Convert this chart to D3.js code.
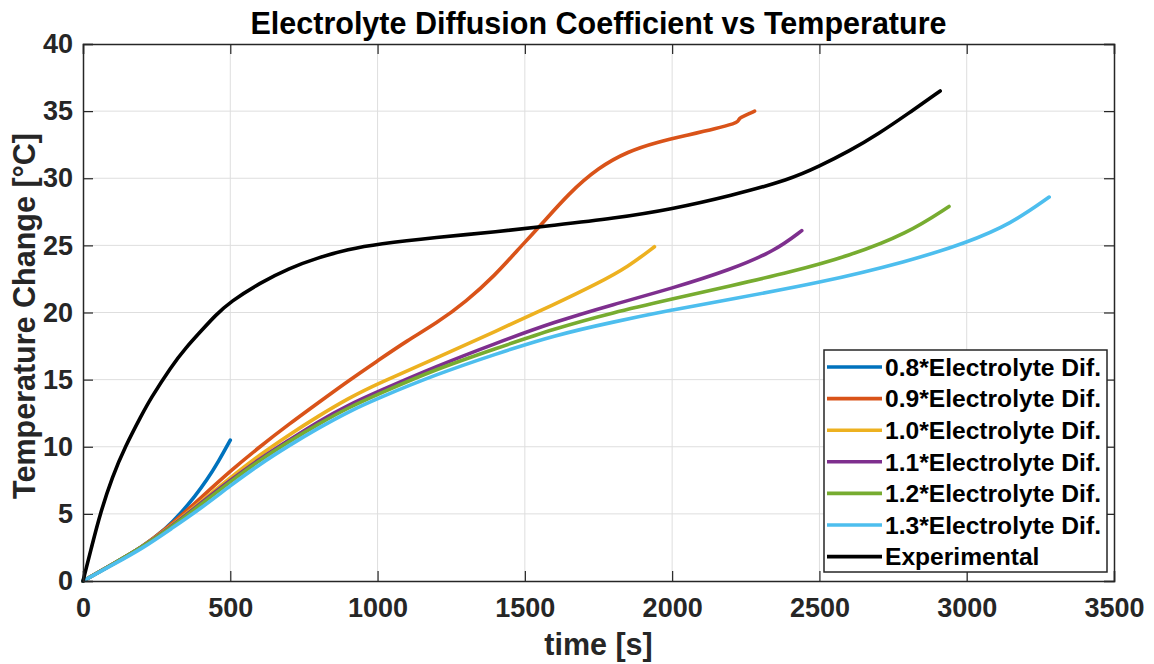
<html>
  <head>
    <style>
      body {
        margin: 0;
        background: #fff;
      }
      svg {
        font-family: "Liberation Sans", Arial, sans-serif;
        font-weight: bold;
      }
      .grid line {
        stroke: #dedede;
        stroke-width: 1;
      }
    </style>
  </head>
  <body>
    <svg></svg>

    <script src="https://d3js.org/d3.v7.min.js"></script>
    <script>
      let width = 1154,
        height = 664;

      let svg = d3.select("svg").attr("width", width).attr("height", height);

      // plot box
      let plotLeft = 83,
        plotRight = 1114,
        plotTop = 44,
        plotBottom = 581;

      let xTicks = [0, 500, 1000, 1500, 2000, 2500, 3000, 3500];
      let yTicks = [0, 5, 10, 15, 20, 25, 30, 35, 40];

      // series (time [s], temperature change [°C])
      let t08 = [0, 100, 200, 285, 330, 380, 420, 460, 500];
      let y08 = [0, 1.25, 2.5, 3.95, 5.0, 6.3, 7.5, 8.9, 10.5];

      let t09 = [0, 100, 200, 300, 400, 500, 600, 700, 800, 900, 1000, 1100, 1200, 1300, 1400, 1473, 1550, 1650, 1750, 1850, 1950, 2050, 2150, 2215, 2222, 2230, 2240, 2280];
      let y09 = [0, 1.25, 2.5, 4.2, 6.2, 8.2, 10.0, 11.7, 13.3, 14.9, 16.4, 17.9, 19.2, 20.8, 22.8, 24.6, 26.4, 28.9, 30.8, 32.0, 32.7, 33.2, 33.7, 34.1, 34.2, 34.5, 34.6, 35.0];

      let t10 = [0, 100, 200, 300, 400, 500, 600, 700, 800, 900, 1000, 1200, 1400, 1600, 1750, 1850, 1940];
      let y10 = [0, 1.25, 2.5, 4.1, 5.9, 7.7, 9.4, 10.9, 12.3, 13.6, 14.7, 16.6, 18.6, 20.6, 22.2, 23.4, 24.9];

      let t11 = [0, 100, 200, 300, 400, 500, 600, 700, 800, 900, 1000, 1200, 1400, 1600, 1800, 2000, 2200, 2350, 2440];
      let y11 = [0, 1.25, 2.5, 4.05, 5.8, 7.5, 9.1, 10.5, 11.9, 13.1, 14.1, 16.0, 17.7, 19.3, 20.6, 21.8, 23.2, 24.6, 26.1];

      let t12 = [0, 100, 200, 300, 400, 500, 600, 700, 800, 900, 1000, 1200, 1400, 1600, 1800, 2000, 2200, 2400, 2600, 2800, 2940];
      let y12 = [0, 1.25, 2.5, 4.0, 5.7, 7.4, 9.0, 10.4, 11.7, 12.9, 13.9, 15.8, 17.3, 18.8, 20.0, 21.0, 22.0, 23.0, 24.2, 25.9, 27.9];

      let t13 = [0, 100, 200, 300, 400, 500, 600, 700, 800, 900, 1000, 1200, 1400, 1600, 1800, 2000, 2200, 2500, 2800, 3000, 3150, 3280];
      let y13 = [0, 1.2, 2.4, 3.9, 5.4, 7.1, 8.7, 10.1, 11.4, 12.6, 13.6, 15.4, 16.9, 18.3, 19.3, 20.2, 21.0, 22.2, 23.8, 25.2, 26.6, 28.6];

      let tExp = [0, 30, 58, 100, 143, 200, 227, 300, 350, 400, 450, 500, 600, 700, 800, 900, 1000, 1200, 1400, 1600, 1800, 2000, 2200, 2400, 2500, 2600, 2700, 2800, 2910];
      let yExp = [0, 2.6, 5.0, 7.8, 10.0, 12.4, 13.5, 16.0, 17.4, 18.6, 19.8, 20.8, 22.2, 23.3, 24.1, 24.7, 25.1, 25.6, 26.0, 26.5, 27.0, 27.7, 28.7, 29.9, 30.9, 32.0, 33.3, 34.8, 36.5];

      let names = [
        "0.8*Electrolyte Dif.",
        "0.9*Electrolyte Dif.",
        "1.0*Electrolyte Dif.",
        "1.1*Electrolyte Dif.",
        "1.2*Electrolyte Dif.",
        "1.3*Electrolyte Dif.",
        "Experimental",
      ];
      let colors = ["#0072BD", "#D95319", "#EDB120", "#7E2F8E", "#77AC30", "#4DBEEE", "#000000"];

      let series = [
        [t08, y08],
        [t09, y09],
        [t10, y10],
        [t11, y11],
        [t12, y12],
        [t13, y13],
        [tExp, yExp],
      ].map((s, i) => ({
        name: names[i],
        color: colors[i],
        points: s[0].map((t, j) => [t, s[1][j]]),
      }));

      let x = d3.scaleLinear().domain([0, 3500]).range([plotLeft, plotRight]);
      let y = d3.scaleLinear().domain([0, 40]).range([plotBottom, plotTop]);

      // grid
      let grid = svg.append("g").attr("class", "grid");
      grid
        .selectAll("line.gx")
        .data(xTicks.slice(1, -1))
        .enter()
        .append("line")
        .attr("x1", (d) => x(d))
        .attr("x2", (d) => x(d))
        .attr("y1", plotTop)
        .attr("y2", plotBottom);
      grid
        .selectAll("line.gy")
        .data(yTicks.slice(1, -1))
        .enter()
        .append("line")
        .attr("x1", plotLeft)
        .attr("x2", plotRight)
        .attr("y1", (d) => y(d))
        .attr("y2", (d) => y(d));

      // curves (basis spline smooths the hand-read points)
      let line = d3
        .line()
        .x((d) => x(d[0]))
        .y((d) => y(d[1]))
        .curve(d3.curveBasis);

      svg
        .append("g")
        .attr("id", "curves")
        .selectAll("path")
        .data(series)
        .enter()
        .append("path")
        .attr("d", (d) => line(d.points))
        .attr("fill", "none")
        .attr("stroke", (d) => d.color)
        .attr("stroke-width", 3.6)
        .attr("stroke-linejoin", "round")
        .attr("stroke-linecap", "round");

      // axes with inward ticks on all four sides
      let tickSize = -10;
      svg
        .append("g")
        .attr("transform", "translate(0," + plotBottom + ")")
        .call(d3.axisBottom(x).tickValues(xTicks).tickSize(tickSize).tickPadding(17).tickFormat(d3.format("d")));
      svg
        .append("g")
        .attr("transform", "translate(0," + plotTop + ")")
        .call(d3.axisTop(x).tickValues(xTicks).tickSize(tickSize).tickFormat(""));
      svg
        .append("g")
        .attr("transform", "translate(" + plotLeft + ",0)")
        .call(d3.axisLeft(y).tickValues(yTicks).tickSize(tickSize).tickPadding(10));
      svg
        .append("g")
        .attr("transform", "translate(" + plotRight + ",0)")
        .call(d3.axisRight(y).tickValues(yTicks).tickSize(tickSize).tickFormat(""));

      svg.selectAll(".domain").attr("stroke", "#262626").attr("stroke-width", 1.5);
      svg.selectAll(".tick line").attr("stroke", "#262626").attr("stroke-width", 1.2);
      svg.selectAll(".tick").select(function () {
        return this.parentNode;
      })
        .attr("font-family", null)
        .attr("font-size", null);
      svg.selectAll(".tick text").style("font-size", "27px").attr("fill", "#262626");

      // titles
      svg
        .append("text")
        .attr("x", (plotLeft + plotRight) / 2)
        .attr("y", 34)
        .attr("text-anchor", "middle")
        .style("font-size", "30.5px")
        .attr("fill", "#000")
        .text("Electrolyte Diffusion Coefficient vs Temperature");

      svg
        .append("text")
        .attr("x", (plotLeft + plotRight) / 2)
        .attr("y", 655)
        .attr("text-anchor", "middle")
        .style("font-size", "30.5px")
        .attr("fill", "#262626")
        .text("time [s]");

      svg
        .append("text")
        .attr("transform", "translate(35,316) rotate(-90)")
        .attr("text-anchor", "middle")
        .style("font-size", "30.5px")
        .attr("fill", "#262626")
        .text("Temperature Change [°C]");

      // legend
      let lgX = 824,
        lgY = 350,
        lgW = 283,
        lgH = 222,
        rowH = 31.6;
      let legend = svg.append("g").attr("id", "legend");
      legend
        .append("rect")
        .attr("x", lgX)
        .attr("y", lgY)
        .attr("width", lgW)
        .attr("height", lgH)
        .attr("fill", "#fff")
        .attr("stroke", "#262626")
        .attr("stroke-width", 1.5);
      let rows = legend
        .selectAll("g.row")
        .data(series)
        .enter()
        .append("g")
        .attr("transform", (d, i) => "translate(" + lgX + "," + (lgY + 17 + i * rowH) + ")");
      rows
        .append("line")
        .attr("x1", 3)
        .attr("x2", 58)
        .attr("stroke", (d) => d.color)
        .attr("stroke-width", 3.6);
      rows
        .append("text")
        .attr("x", 61)
        .attr("dy", "0.36em")
        .style("font-size", "24.6px")
        .attr("fill", "#000")
        .text((d) => d.name);
    </script>
  </body>
</html>
